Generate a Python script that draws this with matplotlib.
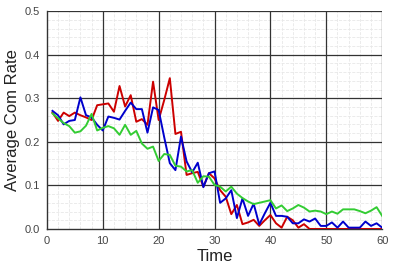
import matplotlib
matplotlib.use("Agg")
import matplotlib.pyplot as plt
from matplotlib.ticker import MultipleLocator

time = list(range(1, 61))

red = [0.267, 0.248, 0.267, 0.259, 0.267, 0.261, 0.256, 0.250, 0.284, 0.286,
       0.288, 0.269, 0.328, 0.281, 0.307, 0.246, 0.252, 0.239, 0.338, 0.250,
       0.296, 0.346, 0.218, 0.223, 0.124, 0.128, 0.131, 0.097, 0.128, 0.116,
       0.089, 0.074, 0.034, 0.055, 0.011, 0.015, 0.021, 0.007, 0.020, 0.032,
       0.013, 0.003, 0.028, 0.020, 0.003, 0.011, 0.000, 0.000, 0.000, 0.000,
       0.000, 0.000, 0.000, 0.000, 0.000, 0.000, 0.000, 0.000, 0.000, 0.000]

blue = [0.271, 0.261, 0.240, 0.248, 0.250, 0.302, 0.261, 0.256, 0.239, 0.226,
        0.258, 0.255, 0.251, 0.271, 0.290, 0.275, 0.275, 0.221, 0.279, 0.273,
        0.210, 0.151, 0.135, 0.212, 0.155, 0.130, 0.152, 0.096, 0.128, 0.132,
        0.060, 0.070, 0.089, 0.025, 0.070, 0.030, 0.058, 0.010, 0.036, 0.060,
        0.030, 0.030, 0.028, 0.013, 0.013, 0.022, 0.017, 0.024, 0.007, 0.007,
        0.015, 0.003, 0.017, 0.003, 0.003, 0.003, 0.017, 0.007, 0.013, 0.003]

green = [0.265, 0.254, 0.243, 0.236, 0.221, 0.224, 0.237, 0.264, 0.226, 0.232,
         0.236, 0.231, 0.216, 0.239, 0.216, 0.225, 0.196, 0.184, 0.189, 0.156,
         0.172, 0.170, 0.145, 0.143, 0.132, 0.135, 0.106, 0.121, 0.120, 0.101,
         0.097, 0.086, 0.097, 0.081, 0.071, 0.063, 0.057, 0.060, 0.063, 0.066,
         0.047, 0.054, 0.041, 0.047, 0.055, 0.049, 0.040, 0.042, 0.040, 0.034,
         0.040, 0.035, 0.045, 0.045, 0.045, 0.041, 0.036, 0.042, 0.050, 0.030]

xticks = [0, 10, 20, 30, 40, 50, 60]
yticks = [0.0, 0.1, 0.2, 0.3, 0.4, 0.5]

plt.rcParams['font.family'] = ['Liberation Sans', 'DejaVu Sans']

fig = plt.figure(figsize=(3.94, 2.70), dpi=100)
ax = fig.add_axes([0.119, 0.152, 0.851, 0.807])

ax.plot(time, red, color='#cc0000', lw=1.4, zorder=3)
ax.plot(time, blue, color='#0000cc', lw=1.4, zorder=3)
ax.plot(time, green, color='#33cc33', lw=1.4, zorder=3)

ax.set_xlim(0, 60)
ax.set_ylim(0, 0.5)
ax.set_xticks(xticks)
ax.set_yticks(yticks)
ax.set_xticklabels([str(v) for v in xticks])
ax.set_yticklabels([f"{v:.1f}" for v in yticks])
ax.xaxis.set_minor_locator(MultipleLocator(2))
ax.yaxis.set_minor_locator(MultipleLocator(0.02))

# light dashed minor grid underneath
ax.grid(which='minor', color='#e8e8e8', lw=0.6, ls='--')
ax.set_axisbelow(True)
# dark major grid drawn on top of the minor grid
for xv in xticks[1:]:
    ax.axvline(xv, color='#333333', lw=0.9, zorder=1.5)
for yv in yticks[1:]:
    ax.axhline(yv, color='#333333', lw=0.9, zorder=1.5)

ax.tick_params(which='both', length=0, labelsize=8, labelcolor='#444444', pad=5)
for side in ['top', 'right']:
    ax.spines[side].set_visible(False)
for side in ['left', 'bottom']:
    ax.spines[side].set_color('#333333')
    ax.spines[side].set_linewidth(1.0)

ax.set_xlabel('Time', fontsize=12, color='#222222', labelpad=2)
ax.set_ylabel('Average Com Rate', fontsize=12, color='#222222', labelpad=3)

fig.savefig('out.png', dpi=100)
